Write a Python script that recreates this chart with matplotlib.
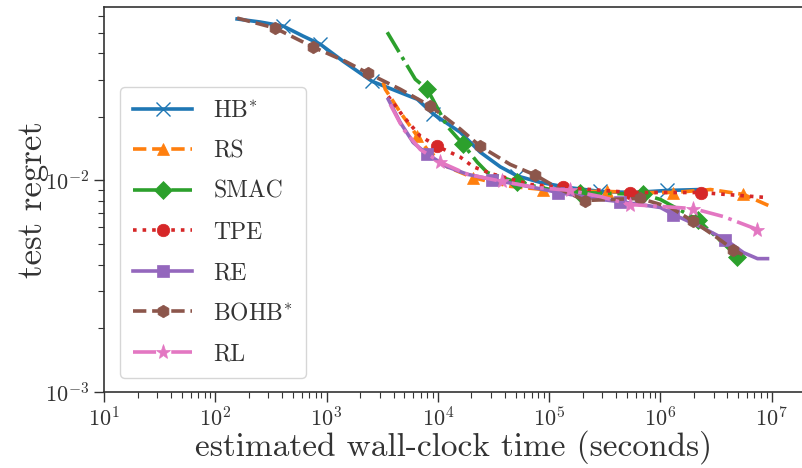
import matplotlib
matplotlib.use("Agg")
import matplotlib.pyplot as plt
import numpy as np

plt.rcParams['font.family'] = ['cmr10', 'DejaVu Serif']
plt.rcParams['mathtext.fontset'] = 'cm'
plt.rcParams['axes.formatter.use_mathtext'] = True
plt.rcParams['axes.unicode_minus'] = False

# ---- data ----
hb_x = [157, 253, 407, 617, 876, 1409, 2570, 6537, 9100, 15890, 24050, 36400, 51760, 83390, 145900, 288700, 571500, 1.156e6, 2.291e6]
hb_y = [0.0580, 0.0561, 0.0537, 0.0481, 0.0441, 0.0366, 0.0294, 0.0242, 0.0206, 0.0169, 0.0136, 0.0116, 0.0105, 0.00979, 0.00927, 0.00887, 0.00877, 0.00897, 0.00906]
hb_m = [2, 4, 6, 8, 12, 15, 17]

rs_x = [3228, 3366, 4592, 6537, 8035, 12160, 20800, 44770, 88720, 172200, 333600, 660700, 1.309e6, 2.818e6, 5.572e6, 9.75e6]
rs_y = [0.0291, 0.0270, 0.0210, 0.0162, 0.0140, 0.0116, 0.0103, 0.00938, 0.00906, 0.00887, 0.00887, 0.00877, 0.00877, 0.00906, 0.00859, 0.00754]
rs_m = [3, 6, 8, 10, 12, 14]

smac_x = [3508, 6270, 8035, 12160, 16910, 22600, 27800, 51760, 102600, 190900, 703100, 1.0e6, 2.153e6, 4.921e6, 5.81e6]
smac_y = [0.0502, 0.0301, 0.0270, 0.0180, 0.0148, 0.0122, 0.0109, 0.00979, 0.00906, 0.00877, 0.00859, 0.00813, 0.00653, 0.00437, 0.00427]
smac_m = [2, 4, 7, 9, 10, 12, 13]

tpe_x = [3581, 4887, 6953, 9890, 15890, 20800, 31480, 67800, 134300, 537000, 2.291e6, 9.162e6]
tpe_y = [0.0250, 0.0201, 0.0162, 0.0145, 0.0129, 0.0116, 0.0107, 0.00957, 0.00927, 0.00877, 0.00877, 0.00830]
tpe_m = [3, 8, 9, 10]

re_x = [3581, 4592, 6014, 8035, 12160, 18380, 30840, 72100, 121100, 288700, 436500, 1.0e6, 1.309e6, 2.291e6, 3.839e6, 5.572e6, 7.447e6, 9.162e6]
re_y = [0.0242, 0.0188, 0.0151, 0.0133, 0.0116, 0.0107, 0.0101, 0.00927, 0.00877, 0.00813, 0.00794, 0.00745, 0.00690, 0.00605, 0.00525, 0.00456, 0.00427, 0.00427]
re_m = [3, 6, 8, 10, 12, 14]

bohb_x = [157, 345, 759, 1469, 2366, 4592, 8551, 15890, 24050, 44770, 75170, 126200, 211800, 354800, 660700, 1.231e6, 1.981e6, 3.126e6, 4.531e6, 5.81e6]
bohb_y = [0.0586, 0.0525, 0.0427, 0.0366, 0.0321, 0.0270, 0.0225, 0.0175, 0.0145, 0.0119, 0.0106, 0.00906, 0.00804, 0.00813, 0.00822, 0.00745, 0.00640, 0.00543, 0.00471, 0.00437]
bohb_m = [1, 2, 4, 6, 8, 10, 12, 14, 16, 18]

rl_x = [3732, 4887, 6953, 10520, 18380, 37950, 75170, 155300, 288700, 537000, 1.0e6, 1.981e6, 3.684e6, 7.447e6]
rl_y = [0.0229, 0.0175, 0.0140, 0.0122, 0.0107, 0.00989, 0.00927, 0.00897, 0.00839, 0.00769, 0.00754, 0.00736, 0.00675, 0.00586]
rl_m = [3, 5, 7, 9, 11, 13]

series = [
    (r"$\mathrm{HB}^{*}$", hb_x, hb_y, hb_m, '#1f77b4', '-', 'x'),
    ("RS", rs_x, rs_y, rs_m, '#ff7f0e', '--', '^'),
    ("SMAC", smac_x, smac_y, smac_m, '#2ca02c', '-.', 'D'),
    ("TPE", tpe_x, tpe_y, tpe_m, '#d62728', ':', 'o'),
    ("RE", re_x, re_y, re_m, '#9467bd', '-', 's'),
    (r"$\mathrm{BOHB}^{*}$", bohb_x, bohb_y, bohb_m, '#8c564b', '--', 'h'),
    ("RL", rl_x, rl_y, rl_m, '#e377c2', '-.', '*'),
]

fig = plt.figure(figsize=(8.03, 4.68), dpi=100)
ax = fig.add_axes([104/803, 76/468, 700/803, 385/468])

for label, x, y, m, c, ls, mk in series:
    ms = 11 if mk == '*' else 9
    if mk == 'x':
        ms = 10
    ax.plot(x, y, color=c, linestyle=ls, marker=mk, markevery=m, lw=2.6,
            markersize=ms, markeredgewidth=1.0 if mk == 'x' else 0.5, label=label)

ax.set_xscale('log')
ax.set_yscale('log')
ax.set_xlim(10, 10**7.29)
ax.set_ylim(1e-3, 10**-1.18)
ax.spines['right'].set_visible(False)
for s in ['left', 'bottom', 'top']:
    ax.spines[s].set_color('#333333')
    ax.spines[s].set_linewidth(1.2)
ax.tick_params(which='major', length=7, width=1.0, labelsize=16, colors='#333333', labelcolor='#333333')
ax.tick_params(which='minor', length=4, width=0.8, colors='#333333')

ax.set_xlabel('estimated wall-clock time (seconds)', fontsize=24, color='#333333')
ax.set_ylabel('test regret', fontsize=25, color='#333333')
ax.xaxis.set_label_coords(0.5, -0.1)
ax.yaxis.set_label_coords(-0.078, 0.5)

leg = ax.legend(loc='lower left', bbox_to_anchor=(0.023, 0.036), borderaxespad=0,
                fontsize=17, handlelength=2.5, handletextpad=0.9, labelspacing=0.78,
                frameon=True, fancybox=True, edgecolor='#cccccc', borderpad=0.55)
for t in leg.get_texts():
    t.set_color('#333333')

fig.savefig('out.png', dpi=100)
